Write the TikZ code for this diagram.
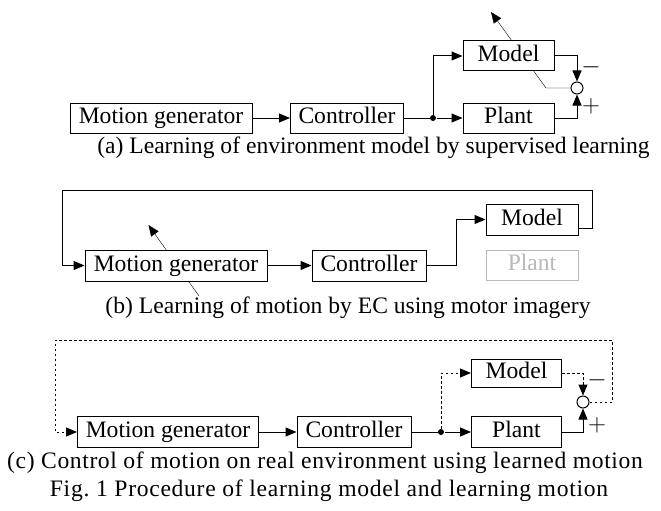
\documentclass[tikz,border=0pt]{standalone}
\usepackage{fontspec}
\setmainfont{Liberation Serif}
\usetikzlibrary{arrows.meta,backgrounds}

\tikzset{
  blk/.style={draw,fill=white,minimum height=30pt,inner sep=0pt,
    text height=16pt,text depth=5pt},
  sumpt/.style={draw,circle,fill=white,minimum size=12pt,inner sep=0pt},
  jdot/.style={circle,fill,inner sep=0pt,minimum size=6pt},
  dotline/.style={dash pattern=on 2.5pt off 2.5pt},
  captxt/.style={anchor=base,inner sep=0pt}
}

\begin{document}
\begin{tikzpicture}[x=1pt,y=-1pt,>={Triangle[length=11pt,width=9pt]},
    line width=1pt,font=\fontsize{23.6}{28}\selectfont]
  \useasboundingbox (0,0) rectangle (661,511);

  % (a) the model learns from the plant
  \node[blk,minimum width=182pt] (MGa) at (161,118) {Motion generator};
  \node[blk,minimum width=113pt] (Ca) at (347,118) {Controller};
  \node[blk,minimum width=91pt] (Ma) at (508.5,56) {Model};
  \node[blk,minimum width=91pt] (Pa) at (508.5,118) {Plant};
  \node[jdot] (Ja) at (433,118) {};
  \node[sumpt] (Sa) at (577,88) {};
  \node (minusA) at (591,67) {$-$};
  \node (plusA) at (591,106) {$+$};
  \draw[->] (MGa) -- (Ca);
  \draw (Ca) -- (Ja);
  \draw[->] (Ja) -- (Pa);
  \draw[->] (Ja) |- (Ma);
  \draw[->] (Ma.east) -| (Sa.north);
  \draw[->] (Pa.east) -| (Sa.south);
  \begin{scope}[on background layer]
    \coordinate (Ea) at (546,88);
    \coordinate (Ta) at (491,12);
    \draw[->] (Sa.west) -- (Ea) -- (Ta);
  \end{scope}
  \node[captxt] (capA) at (373.5,153) {(a) Learning of environment model by supervised learning};

  % (b) motion learned with the model only
  \node[blk,minimum width=182pt,minimum height=31pt] (MGb) at (176,265.5) {Motion generator};
  \node[blk,minimum width=114pt,minimum height=31pt] (Cb) at (369,265.5) {Controller};
  \node[blk,minimum width=92pt,minimum height=31pt] (Mb) at (532,219.5) {Model};
  \node[blk,minimum width=92pt,draw=gray!55,text=gray!55] (Pb) at (532,265) {Plant};
  \coordinate (Kb) at (456.5,265.5);
  \coordinate (FbR) at (592,190);
  \coordinate (FbL) at (62,190);
  \draw[->] (MGb) -- (Cb);
  \draw[->] (Cb.east) -- (Kb) |- (Mb.west);
  \draw[->] ([yshift=-8.5pt]Mb.east) -| (FbR) -- (FbL) |- (MGb.west);
  \begin{scope}[on background layer]
    \coordinate (Eb) at (199,296);
    \coordinate (Tb) at (148.5,225);
    \draw[->] (Eb) -- (Tb);
  \end{scope}
  \node[captxt] (capB) at (348,313) {(b) Learning of motion by EC using motor imagery};

  % (c) learned motion drives the real plant
  \node[blk,minimum width=181pt,minimum height=31pt] (MGc) at (168,432) {Motion generator};
  \node[blk,minimum width=114pt,minimum height=31pt] (Cc) at (354,432) {Controller};
  \node[blk,minimum width=90pt,minimum height=31pt] (Pc) at (516.5,432) {Plant};
  \node[blk,minimum width=90pt,minimum height=28pt] (Mc) at (516.5,373) {Model};
  \node[jdot] (Jc) at (441,432) {};
  \node[sumpt] (Sc) at (583,402) {};
  \node (minusC) at (597,380) {$-$};
  \node (plusC) at (597,425) {$+$};
  \coordinate (FcR) at (612,340);
  \coordinate (FcL) at (55,340);
  \draw[->] (MGc) -- (Cc);
  \draw (Cc) -- (Jc);
  \draw[->] (Jc) -- (Pc);
  \draw[->,dotline] (Jc) |- (Mc);
  \draw[->,dotline] (Mc.east) -| (Sc.north);
  \draw[->] (Pc.east) -| (Sc.south);
  \draw[->,dotline] (Sc.east) -| (FcR) -- (FcL) |- (MGc.west);
  \node[captxt] (capC) at (325,468) {\addfontfeature{LetterSpace=2.6}(c) Control of motion on real environment using learned motion};
  \node[captxt] (capFig) at (329,496) {\addfontfeature{LetterSpace=3}Fig.\ 1 Procedure of learning model and learning motion};
\end{tikzpicture}
\end{document}
